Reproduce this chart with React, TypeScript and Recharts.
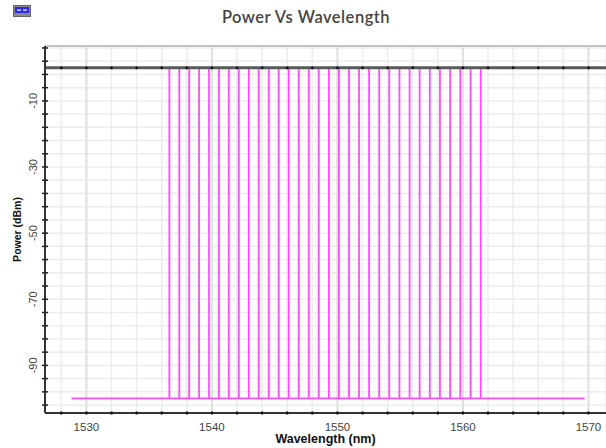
import {
  LineChart,
  Line,
  XAxis,
  YAxis,
  CartesianGrid,
  ReferenceLine,
  ReferenceDot,
  Label,
} from 'recharts'

// DWDM channels on the 100 GHz ITU grid (nm)
const channelsNm = [
  1536.61, 1537.4, 1538.19, 1538.98, 1539.77, 1540.56, 1541.35, 1542.14,
  1542.94, 1543.73, 1544.53, 1545.32, 1546.12, 1546.92, 1547.72, 1548.51,
  1549.32, 1550.12, 1550.92, 1551.72, 1552.52, 1553.33, 1554.13, 1554.94,
  1555.75, 1556.55, 1557.36, 1558.17, 1558.98, 1559.79, 1560.61, 1561.42,
]
const peakDbm = 0
const floorDbm = -100
const traceStartNm = 1528.8
const traceEndNm = 1569.7

const xTicks = [
  1528, 1530, 1532, 1534, 1536, 1538, 1540, 1542, 1544, 1546, 1548, 1550,
  1552, 1554, 1556, 1558, 1560, 1562, 1564, 1566, 1568, 1570,
]
const xLabels = [1530, 1540, 1550, 1560, 1570]
const yTicks = [
  -102, -98, -94, -90, -86, -82, -78, -74, -70, -66, -62, -58, -54, -50, -46,
  -42, -38, -34, -30, -26, -22, -18, -14, -10, -6, -2, 2, 6,
]
const yLabels = [-10, -30, -50, -70, -90]

const X_DOMAIN: [number, number] = [1526.7, 1571.4]
const Y_DOMAIN: [number, number] = [-104.4, 6.6]

const PINK = '#ff4cff'
const AXIS = '#333'

// spectrum trace: flat floor with a spike at each channel
const spectrum = [
  { x: traceStartNm, y: floorDbm },
  ...channelsNm.flatMap((nm) => [
    { x: nm, y: floorDbm },
    { x: nm, y: peakDbm },
    { x: nm, y: floorDbm },
  ]),
  { x: traceEndNm, y: floorDbm },
]

const XTick = ({ x, y, payload }: any) => {
  const v = payload.value
  return (
    <g>
      <line x1={x} x2={x} y1={y - 1.5} y2={y + 1.5} stroke="#111" strokeWidth={2} />
      {xLabels.includes(v) && (
        <text
          x={x}
          y={y + 18}
          textAnchor="middle"
          fontSize={11.5}
          fontFamily="Liberation Sans, Arial, sans-serif"
          fill="#444"
        >
          {v}
        </text>
      )}
    </g>
  )
}

const YTick = ({ x, y, payload }: any) => {
  const v = payload.value
  return (
    <g>
      <line x1={x - 3} x2={x + 3} y1={y} y2={y} stroke="#222" strokeWidth={1.5} />
      {yLabels.includes(v) && (
        <text
          transform={`translate(${x - 12},${y}) rotate(-90)`}
          textAnchor="middle"
          dominantBaseline="central"
          fontSize={11}
          fontFamily="Liberation Sans, Arial, sans-serif"
          fill="#444"
        >
          {v}
        </text>
      )}
    </g>
  )
}

const YTitle = ({ viewBox }: any) => {
  const cy = viewBox.y + viewBox.height / 2
  return (
    <text
      transform={`translate(17,${cy}) rotate(-90)`}
      textAnchor="middle"
      dominantBaseline="central"
      fontSize={10.5}
      fontWeight="bold"
      fontFamily="Liberation Sans, Arial, sans-serif"
      fill="#111"
    >
      Power (dBm)
    </text>
  )
}

const XTitle = ({ viewBox }: any) => {
  const cx = viewBox.x + viewBox.width / 2
  return (
    <text
      x={cx}
      y={443}
      textAnchor="middle"
      fontSize={12.5}
      fontWeight="bold"
      fontFamily="Liberation Sans, Arial, sans-serif"
      fill="#111"
    >
      Wavelength (nm)
    </text>
  )
}

export default function App() {
  return (
    <div
      style={{
        position: 'absolute',
        left: 0,
        top: 0,
        width: 606,
        height: 448,
        background: '#fff',
        overflow: 'hidden',
      }}
    >
      <svg
        width={18}
        height={12}
        style={{ position: 'absolute', left: 13, top: 5 }}
      >
        <rect x={0.5} y={0.5} width={17} height={11} fill="#8a8a8a" stroke="#666" />
        <rect x={2} y={2} width={14} height={6} fill="#2a2ae8" />
        <rect x={4} y={4.5} width={4} height={1.2} fill="#fff" />
        <rect x={10} y={4.5} width={4} height={1.2} fill="#fff" />
      </svg>
      <div
        style={{
          position: 'absolute',
          left: 0,
          top: 7,
          width: 612,
          textAlign: 'center',
          fontFamily: 'Lato, "Open Sans", sans-serif',
          fontSize: 16.5,
          fontWeight: 600,
          letterSpacing: 0.5,
          color: '#454545',
        }}
      >
        Power Vs Wavelength
      </div>
      <LineChart
        width={606}
        height={448}
        data={spectrum}
        margin={{ top: 46, right: 0, bottom: 0, left: 0 }}
      >
        <CartesianGrid stroke="#ececec" strokeWidth={1.5} />
        {xLabels.map((v) => (
          <ReferenceLine key={v} x={v} stroke="#e0e0e0" strokeWidth={2} />
        ))}
        <ReferenceLine y={Y_DOMAIN[1]} stroke="#c4c4c4" strokeWidth={2} />
        <XAxis
          type="number"
          dataKey="x"
          domain={X_DOMAIN}
          ticks={xTicks}
          allowDataOverflow
          height={35}
          tickSize={0}
          tickMargin={0}
          tickLine={false}
          tick={<XTick />}
          axisLine={{ stroke: AXIS, strokeWidth: 2 }}
          interval={0}
        >
          <Label content={<XTitle />} />
        </XAxis>
        <YAxis
          type="number"
          domain={Y_DOMAIN}
          ticks={yTicks}
          allowDataOverflow
          width={45}
          tickSize={0}
          tickMargin={0}
          tickLine={false}
          tick={<YTick />}
          axisLine={{ stroke: AXIS, strokeWidth: 2 }}
          interval={0}
        >
          <Label content={<YTitle />} />
        </YAxis>
        <Line
          type="linear"
          dataKey="y"
          stroke={PINK}
          strokeWidth={1.8}
          dot={false}
          activeDot={false}
          isAnimationActive={false}
        />
        <ReferenceLine y={0} stroke="#5a5a5a" strokeWidth={3} />
        {xTicks.map((v) => (
          <ReferenceDot key={v} x={v} y={0} r={1.4} fill="#111" stroke="none" />
        ))}
      </LineChart>
    </div>
  )
}
